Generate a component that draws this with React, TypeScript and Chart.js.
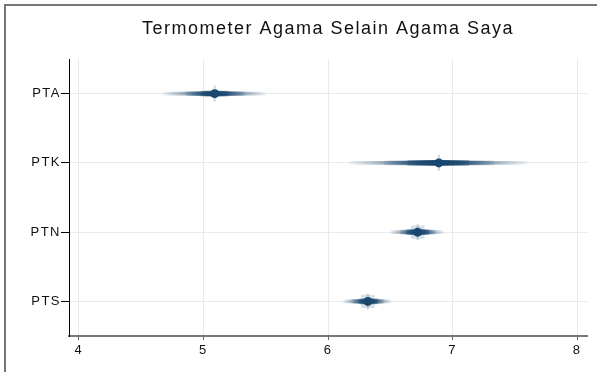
import React, { useEffect, useRef } from 'react';
import { Chart, registerables } from 'chart.js';

Chart.register(...registerables);

// ---- data ----
const titleText = 'Termometer Agama Selain Agama Saya';
const categories = ['PTA', 'PTK', 'PTN', 'PTS'];
const estimates = [5.09, 6.89, 6.72, 6.32];
const hasBox = [false, false, true, true];
const xTicks = [4, 5, 6, 7, 8];

// confidence bands: outer, middle, core
const outerLow = [4.67, 6.17, 6.5, 6.12];
const outerHigh = [5.5, 7.6, 6.93, 6.51];
const midLow = [4.86, 6.45, 6.58, 6.19];
const midHigh = [5.33, 7.33, 6.86, 6.45];
const coreLow = [4.98, 6.64, 6.63, 6.25];
const coreHigh = [5.2, 7.13, 6.81, 6.4];

// ---- styles ----
const FONT = '"Liberation Sans", Arial, Helvetica, sans-serif';
const NAVY = '26,71,111';
const bandThickness = [3, 4, 5];
const bandEndAlpha = [0.04, 0.1, 0.3];
const bandMidAlpha = [1, 1, 1];

const spacingPlugin = {
  id: 'spacing',
  beforeDraw(chart: any) {
    chart.ctx.letterSpacing = '1.5px';
  },
  afterDraw(chart: any) {
    chart.ctx.letterSpacing = '0px';
  },
};

export default function App() {
  const ref = useRef<HTMLCanvasElement>(null);

  useEffect(() => {
    if (!ref.current) return;
    const bands = [
      [outerLow, outerHigh],
      [midLow, midHigh],
      [coreLow, coreHigh],
    ];
    const bandDatasets = bands.map(([lo, hi], k) => ({
      type: 'bar' as const,
      label: 'CI ' + (k + 1),
      data: categories.map((_, i) => [lo[i], hi[i]]),
      backgroundColor: (ctx: any) => {
        const chart = ctx.chart;
        const i = ctx.dataIndex;
        const xs = chart.scales.x;
        if (!chart.chartArea || !xs || i === undefined) return `rgba(${NAVY},1)`;
        const x0 = xs.getPixelForValue(lo[i]);
        const x1 = xs.getPixelForValue(hi[i]);
        const xc = xs.getPixelForValue(estimates[i]);
        const g = chart.ctx.createLinearGradient(x0, 0, x1, 0);
        const m = Math.min(0.99, Math.max(0.01, (xc - x0) / (x1 - x0)));
        g.addColorStop(0, `rgba(${NAVY},${bandEndAlpha[k]})`);
        g.addColorStop(m, `rgba(${NAVY},${bandMidAlpha[k]})`);
        g.addColorStop(1, `rgba(${NAVY},${bandEndAlpha[k]})`);
        return g;
      },
      borderWidth: 0,
      barThickness: bandThickness[k],
      grouped: false,
      order: 10 - k,
    }));
    const pointData = categories.map((c, i) => ({ x: estimates[i], y: c }));
    const boxData = categories
      .map((c, i) => (hasBox[i] ? { x: estimates[i], y: c } : null))
      .filter((d) => d !== null);

    const chart = new Chart(ref.current, {
      type: 'bar',
      data: {
        labels: categories,
        datasets: [
          {
            type: 'line',
            label: 'box',
            data: boxData as any,
            showLine: false,
            pointStyle: 'rect',
            pointRadius: 9.5,
            pointBackgroundColor: `rgba(${NAVY},0.17)`,
            pointBorderWidth: 0,
            order: 30,
          } as any,
          {
            type: 'line',
            label: 'spike',
            data: pointData as any,
            showLine: false,
            pointStyle: 'line',
            pointRotation: 90,
            pointRadius: 8,
            pointBorderWidth: 2,
            pointBorderColor: `rgba(${NAVY},0.22)`,
            order: 20,
          } as any,
          ...bandDatasets,
          {
            type: 'line',
            label: 'estimate',
            data: pointData as any,
            showLine: false,
            pointStyle: 'circle',
            pointRadius: 4.5,
            pointBackgroundColor: `rgb(${NAVY})`,
            pointBorderWidth: 0,
            order: 0,
          } as any,
        ],
      },
      options: {
        responsive: false,
        animation: false,
        indexAxis: 'y',
        layout: { padding: { left: 0, right: 7, top: 0, bottom: 0 } },
        plugins: {
          legend: { display: false },
          tooltip: { enabled: false },
          title: {
            display: true,
            text: titleText,
            fullSize: false,
            color: '#111',
            font: { family: FONT, size: 18, weight: 'normal' },
            padding: { top: 18, bottom: 19.4 },
          },
        },
        scales: {
          x: {
            type: 'linear',
            min: 3.92,
            max: 8.08,
            afterFit: (s: any) => {
              s.height = 36;
            },
            afterBuildTicks: (s: any) => {
              s.ticks = xTicks.map((v) => ({ value: v }));
            },
            ticks: {
              color: '#111',
              font: { family: FONT, size: 13 },
              padding: 3,
              maxRotation: 0,
            },
            grid: {
              color: '#e9e9e9',
              lineWidth: 1,
              tickLength: 4,
              tickColor: '#666',
              drawTicks: true,
            },
            border: { color: '#777', width: 2 },
          },
          y: {
            type: 'category',
            labels: categories,
            offset: true,
            afterFit: (s: any) => {
              s.width = 69;
            },
            ticks: {
              color: '#111',
              font: { family: FONT, size: 13 },
              padding: 0,
            },
            grid: {
              offset: false,
              color: '#e9e9e9',
              lineWidth: 1,
              tickLength: 8,
              tickColor: '#000',
            },
            border: { color: '#000', width: 1 },
          },
        },
      } as any,
      plugins: [spacingPlugin],
    });
    return () => chart.destroy();
  }, []);

  return (
    <div
      style={{
        position: 'fixed',
        left: 0,
        top: 0,
        width: 597,
        height: 372,
        overflow: 'hidden',
        background: '#fff',
      }}
    >
      <div
        style={{
          position: 'absolute',
          left: 4,
          top: 4,
          width: 700,
          height: 500,
          border: '2px solid #767676',
        }}
      />
      <canvas
        ref={ref}
        width={597}
        height={372}
        style={{ position: 'absolute', left: 0, top: 0, width: 597, height: 372 }}
      />
    </div>
  );
}
